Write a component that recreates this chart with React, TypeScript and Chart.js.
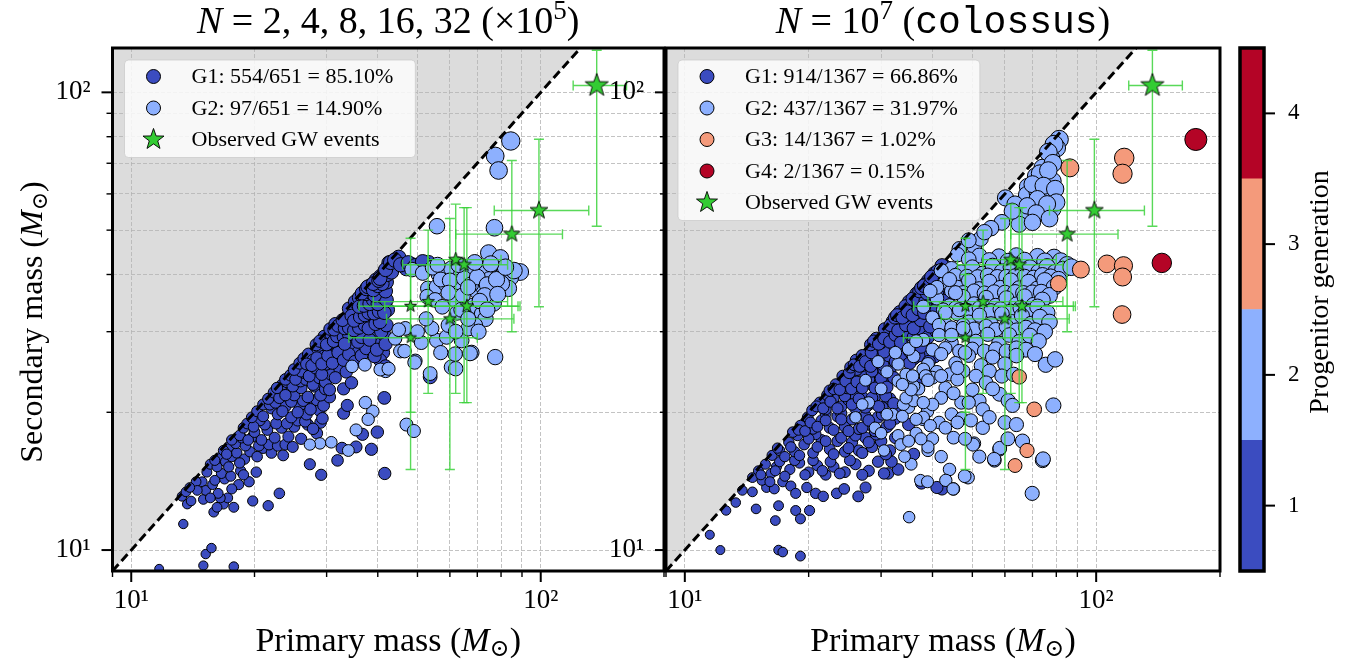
import React, { useEffect, useRef } from 'react';
import { Chart, registerables } from 'chart.js';

Chart.register(...registerables);

const W = 1363;
const H = 659;
const SERIF = "'Liberation Serif', 'DejaVu Serif', serif";
const MONO = "'Liberation Mono', 'DejaVu Sans Mono', monospace";

// ---------------- axes / ticks ----------------
const X_MIN = 9;
const X_MAX = 200;
const Y_MIN = 9;
const Y_MAX = 125;
const xTickValues = [9, 10, 20, 30, 40, 50, 60, 70, 80, 90, 100, 200];
const yTickValues = [10, 20, 30, 40, 50, 60, 70, 80, 90, 100];
const tickLabelText: Record<number, string> = { 10: '10¹', 100: '10²' };
const equalMassLine = [9, 200];
const generationTicks = [1, 2, 3, 4];
const generationColors = ['#3b4cc0', '#8db0fe', '#f49a7b', '#b40426'];
const STAR_COLOR = '#33cc33';

// ---------------- left panel: N = 2,4,8,16,32 x 1e5 ----------------
const leftG1: [number, number][] = [
  [11.7, 9.1], [15.0, 9.25], [15.2, 9.8], [15.7, 10.1], [17.8, 9.2],
  [13.4, 11.4], [13.7, 12.6], [15.9, 12.1], [15.0, 12.9], [16.8, 12.6], [17.2, 13.0], [16.5, 13.0], [19.8, 12.8], [21.6, 12.5], [23.0, 13.3],
  [13.3, 13.1], [13.6, 13.4], [14.9, 14.1], [15.2, 13.5], [15.8, 13.9], [16.3, 13.3], [16.9, 14.3], [16.6, 14.7], [18.3, 13.9], [19.4, 14.1], [20.2, 14.8], [18.5, 14.9], [29.1, 14.6], [41.6, 14.7], [14.4, 14.1], [15.3, 14.8],
  [14.0, 12.8], [14.5, 13.5], [13.9, 13.7], [15.6, 13.0], [16.0, 14.2], [17.5, 14.5], [17.6, 13.6], [18.8, 14.6], [16.2, 12.4], [17.8, 12.4],
  [15.6, 15.4], [16.2, 15.2], [16.4, 15.9], [17.0, 15.6], [17.6, 16.0], [17.3, 16.8], [18.1, 16.3], [18.9, 15.8], [19.5, 16.4], [20.3, 16.0], [21.0, 16.7], [22.0, 16.3], [23.5, 16.1], [27.3, 15.4], [31.9, 15.7], [32.7, 16.7], [35.4, 16.8], [38.6, 16.6], [16.8, 16.5], [18.0, 17.1],
  [16.0, 15.7], [17.3, 15.2], [18.4, 15.5], [19.0, 16.9], [20.5, 16.9], [21.7, 17.0], [22.8, 16.9], [23.8, 17.0], [19.8, 17.7], [17.1, 16.2], [18.6, 17.6], [24.8, 16.8],
  [17.6, 17.4], [18.4, 17.8], [18.8, 18.5], [19.3, 17.4], [20.0, 18.1], [20.8, 17.4], [21.5, 18.3], [22.4, 17.6], [23.3, 18.5], [24.2, 17.7], [25.0, 18.6], [26.0, 17.5], [27.0, 18.8], [28.4, 18.0], [29.0, 19.0], [36.7, 17.9], [39.9, 18.1], [19.2, 18.9],
  [21.2, 18.8], [22.6, 18.9], [24.0, 18.9], [25.5, 19.2], [26.6, 19.1], [27.8, 18.4], [20.6, 19.2], [19.9, 18.6],
  [19.7, 19.5], [20.3, 20.1], [21.0, 19.6], [22.0, 20.4], [22.8, 19.8], [23.8, 20.6], [24.6, 19.5], [25.8, 20.5], [26.8, 19.8], [27.8, 20.8], [28.8, 20.2], [29.3, 19.4], [33.0, 19.9], [33.7, 20.7], [21.0, 20.8],
  [21.8, 20.8], [22.5, 21.0], [23.4, 20.1], [24.6, 21.1], [25.5, 20.0], [26.3, 21.2], [27.4, 20.3], [28.4, 21.3], [29.5, 20.7], [30.5, 21.6],
  [21.6, 21.4], [22.3, 22.1], [23.0, 21.5], [24.0, 22.4], [25.0, 21.8], [26.0, 22.6], [27.0, 21.6], [28.0, 22.8], [29.0, 21.8], [29.8, 22.5], [23.4, 23.0], [41.5, 21.5],
  [24.0, 23.3], [24.8, 22.8], [25.9, 23.4], [26.7, 23.6], [27.8, 23.0], [28.8, 23.8], [29.8, 23.3], [30.8, 24.2], [22.7, 22.6], [23.8, 21.8], [26.5, 24.4], [30.5, 22.4], [32.3, 25.0], [33.0, 22.5],
  [23.8, 23.6], [24.5, 24.1], [25.2, 23.6], [26.0, 24.6], [27.2, 24.0], [28.2, 25.0], [29.2, 24.2], [30.0, 25.5], [25.0, 24.8], [25.8, 25.6], [31.5, 23.8], [33.5, 24.5], [34.5, 23.2],
  [26.4, 26.2], [27.1, 26.8], [27.8, 26.0], [28.6, 27.5], [29.5, 26.5], [30.5, 27.8], [31.5, 26.8], [32.5, 28.5], [33.5, 27.2], [34.6, 28.2], [35.8, 27.0], [37.0, 28.8], [38.5, 27.5], [40.0, 28.5], [41.2, 27.0], [28.3, 28.1], [29.6, 29.3], [30.8, 29.6], [32.0, 30.0], [35.0, 29.8], [37.5, 30.0], [39.2, 29.8], [41.5, 29.5], [40.5, 26.0], [41.8, 25.2],
  [26.8, 25.5], [27.6, 25.3], [28.4, 26.3], [29.2, 25.5], [30.2, 26.6], [31.0, 25.6], [32.0, 27.0], [33.0, 26.0], [34.0, 26.8], [35.2, 25.8], [36.5, 26.6], [37.5, 27.6], [39.3, 26.5], [28.9, 28.6], [30.0, 28.1], [31.2, 28.6], [31.8, 29.3], [33.0, 29.2], [34.0, 29.6], [35.8, 28.5], [36.5, 29.2], [38.2, 28.8], [39.8, 27.4], [41.8, 28.2], [40.8, 30.0], [33.2, 28.2],
  [30.6, 30.4], [31.5, 31.2], [32.5, 30.8], [33.5, 32.0], [34.5, 31.0], [35.5, 32.8], [36.5, 31.5], [37.5, 33.5], [38.6, 32.2], [39.8, 34.0], [41.0, 32.5], [42.0, 31.0], [34.0, 33.7], [35.2, 34.9], [36.0, 35.6], [37.2, 35.0], [38.5, 35.8], [40.2, 35.5], [41.5, 34.5], [42.3, 33.5],
  [31.3, 30.3], [32.0, 30.9], [33.2, 30.5], [34.0, 30.6], [35.0, 30.2], [36.0, 30.6], [37.2, 31.0], [38.0, 30.5], [39.5, 31.2], [40.5, 31.5], [32.8, 31.8], [34.5, 32.5], [35.0, 31.7], [36.2, 32.3], [37.2, 32.6], [38.0, 33.0], [39.2, 32.9], [40.3, 33.2], [41.5, 33.0], [36.0, 34.0], [37.0, 34.2], [38.2, 34.5], [39.0, 35.2], [40.0, 34.5], [41.0, 35.8], [42.0, 35.2], [37.5, 36.3], [38.5, 36.5], [39.3, 36.0],
  [36.6, 36.4], [37.5, 37.2], [38.5, 37.9], [39.6, 38.9], [40.6, 39.6], [41.6, 40.6], [40.8, 37.5], [41.8, 36.8], [42.0, 38.5], [42.5, 41.0], [43.8, 41.5], [45.0, 43.6], [46.3, 41.8], [48.4, 42.0], [52.3, 42.2], [47.0, 41.2], [50.5, 41.5], [53.2, 42.4], [44.5, 42.0], [42.6, 42.4],
  [37.8, 37.6], [39.0, 37.0], [40.0, 37.8], [41.0, 38.2], [39.0, 38.2], [40.2, 38.8], [41.2, 39.8], [42.2, 40.0], [43.2, 40.5], [40.5, 39.2], [41.8, 41.0], [43.0, 42.5], [44.0, 43.0], [45.5, 42.0], [47.5, 42.4], [49.5, 41.8], [51.5, 42.6],
  [53.7, 23.9],
];

const leftG2: [number, number][] = [
  [84.5, 78.3], [77.4, 72.6], [78.9, 67.5], [55.8, 51.0], [77.1, 50.6], [74.6, 44.6], [79.7, 43.5], [89.1, 40.5], [71.2, 40.5], [77.4, 40.0],
  [81.1, 40.0], [84.3, 39.4], [83.4, 37.3], [80.2, 38.2], [69.9, 36.8], [61.6, 40.0], [56.3, 40.0], [53.0, 37.3], [55.7, 37.6], [61.8, 35.2],
  [62.5, 33.0], [68.5, 34.2], [71.9, 32.8], [73.3, 32.0], [76.7, 34.6], [69.1, 31.0], [55.7, 28.7], [58.9, 29.2], [64.1, 28.7], [66.6, 30.5],
  [49.4, 25.9], [53.7, 24.3], [60.5, 25.1], [61.8, 26.8], [77.4, 26.4], [67.8, 27.0], [51.1, 28.4], [45.4, 27.2], [44.1, 29.0], [46.7, 30.5],
  [54.2, 30.5], [52.8, 35.8], [55.2, 35.2], [41.8, 24.6], [40.6, 24.8], [49.2, 25.7], [62.0, 24.9], [67.2, 26.9], [47.0, 18.8], [49.0, 18.2],
  [38.9, 20.1], [37.9, 19.3], [37.3, 21.0], [35.4, 18.3], [33.9, 16.5], [30.8, 17.2], [28.9, 17.1], [27.3, 17.0], [42.5, 24.9], [37.2, 25.4],
  [34.6, 25.2], [45.0, 30.3], [46.5, 27.2], [58.0, 40.5], [60.5, 41.2], [64.0, 40.2], [66.0, 41.5], [68.0, 40.3], [73.5, 41.0], [75.0, 39.0],
  [63.0, 38.5], [58.5, 38.2], [72.0, 37.8], [86.0, 40.8], [48.5, 41.0], [51.5, 40.3], [54.5, 41.4],
  [57.0, 39.0], [60.0, 38.8], [65.0, 39.2], [67.5, 38.0], [70.0, 39.5], [74.0, 38.0], [78.0, 39.0], [82.0, 41.5], [59.5, 36.5], [64.5, 36.0],
  [66.5, 37.5], [73.0, 36.0], [78.5, 36.2], [57.5, 34.0], [64.0, 33.5], [66.5, 32.0], [70.5, 30.0], [59.5, 31.0], [62.0, 30.0], [52.5, 32.0],
  [50.0, 30.0], [57.0, 27.0], [71.0, 35.0], [74.0, 33.5], [63.0, 42.0], [69.0, 42.5], [75.5, 42.2], [56.0, 42.0],
];

// ---------------- right panel: N = 1e7 (colossus) ----------------
const rightG1: [number, number][] = [
  [11.5, 10.8], [12.2, 10.0], [16.9, 10.0], [17.3, 9.9], [19.1, 9.7], [14.9, 12.3], [16.6, 11.6], [16.9, 12.5], [18.6, 12.2], [19.1, 11.7],
  [20.1, 12.2], [13.3, 12.7], [12.6, 12.2], [13.8, 13.5], [14.6, 13.4], [15.8, 13.7], [16.5, 13.6], [17.3, 14.1], [15.4, 14.2], [16.2, 14.7],
  [16.7, 15.2], [18.1, 13.8], [18.6, 13.3], [19.8, 13.7], [20.8, 13.3], [21.7, 13.1], [23.4, 13.3], [24.4, 13.6], [26.4, 13.1], [27.5, 13.7],
  [42.2, 13.6], [41.0, 13.7], [37.6, 14.0], [31.2, 14.7],
  [14.6, 14.4], [15.1, 14.9], [15.7, 15.4], [16.1, 14.1], [17.0, 15.6], [18.0, 15.0], [19.0, 15.5], [20.0, 14.8], [21.0, 15.3], [22.0, 14.6], [23.0, 15.2], [24.5, 14.8], [26.0, 15.4], [28.0, 14.9], [29.5, 15.6], [33.0, 15.0],
  [15.3, 14.6], [16.6, 14.9], [17.5, 14.5], [18.5, 15.7], [19.6, 14.6], [20.5, 15.7], [21.6, 14.9], [22.6, 15.6], [23.8, 14.7], [25.2, 15.7], [27.0, 14.6], [30.5, 14.7], [31.8, 15.6],
  [16.3, 16.1], [17.0, 16.5], [17.9, 17.2], [18.5, 16.4], [19.5, 17.0], [20.5, 16.3], [21.5, 17.4], [22.5, 16.6], [23.5, 17.3], [24.5, 16.4], [25.5, 17.2], [26.5, 16.5], [27.5, 17.6], [28.5, 16.8], [30.0, 17.3], [31.5, 16.5], [36.0, 16.2], [18.8, 17.8], [20.8, 17.9],
  [16.8, 16.7], [17.5, 16.0], [18.1, 16.8], [19.0, 16.1], [20.0, 17.5], [21.0, 16.8], [22.0, 17.3], [23.0, 16.2], [24.0, 17.6], [25.0, 16.7], [26.0, 17.8], [27.0, 16.3], [28.0, 17.2], [29.2, 17.9], [30.8, 16.2], [32.5, 17.6],
  [18.3, 18.1], [19.1, 18.7], [19.9, 19.5], [20.5, 18.4], [21.5, 19.2], [22.5, 18.5], [23.5, 19.6], [24.5, 18.6], [25.5, 19.3], [26.5, 18.4], [27.5, 19.6], [28.5, 18.7], [29.5, 19.5], [31.0, 18.6], [32.5, 19.4], [35.0, 18.8], [22.0, 19.9], [24.0, 19.9],
  [18.9, 18.3], [19.6, 18.2], [20.2, 19.0], [21.0, 18.6], [22.0, 19.2], [23.0, 18.3], [24.0, 19.3], [25.0, 18.2], [26.0, 19.6], [27.0, 18.5], [28.0, 19.2], [29.0, 18.2], [30.2, 19.8], [31.5, 18.9],
  [20.4, 20.2], [21.3, 21.0], [22.0, 20.3], [23.0, 21.5], [24.0, 20.6], [25.0, 21.3], [26.0, 20.4], [27.0, 21.6], [28.0, 20.8], [29.0, 21.7], [30.2, 20.5], [31.5, 21.4], [33.0, 20.6], [22.2, 21.8], [25.8, 21.9],
  [20.9, 20.6], [21.7, 20.4], [22.6, 21.1], [23.5, 20.4], [24.5, 21.7], [25.5, 20.8], [26.5, 21.4], [27.5, 20.5], [28.5, 21.5], [29.6, 20.6], [30.8, 21.7], [32.2, 20.9],
  [22.5, 22.3], [23.3, 23.0], [24.2, 24.0], [24.8, 22.6], [25.6, 23.8], [26.5, 22.8], [27.5, 24.2], [28.5, 23.0], [29.5, 24.4], [30.5, 23.2], [31.5, 24.6], [37.0, 23.0], [26.2, 24.8],
  [23.0, 22.5], [23.8, 22.4], [24.6, 23.4], [25.4, 22.5], [26.2, 23.3], [27.0, 22.6], [28.0, 23.6], [29.0, 22.6], [30.0, 23.7], [31.0, 22.7], [32.2, 23.8], [25.1, 24.4], [28.5, 24.6], [30.5, 24.8],
  [25.3, 25.1], [26.1, 26.0], [27.0, 25.3], [27.8, 26.8], [28.8, 25.6], [29.8, 27.2], [30.8, 25.8], [32.0, 27.4], [33.2, 26.0], [34.5, 27.6], [36.0, 26.2], [38.0, 27.0], [40.5, 26.5], [27.0, 26.6], [29.0, 27.9], [31.0, 27.9],
  [25.8, 25.4], [26.6, 25.2], [27.5, 25.8], [28.3, 25.2], [29.3, 26.2], [30.3, 25.4], [31.3, 26.6], [32.5, 25.8], [33.8, 26.8], [35.2, 25.6], [37.0, 26.6], [39.2, 25.8], [28.4, 27.0], [30.5, 27.1], [33.0, 27.9], [35.2, 27.2], [37.5, 27.8],
  [28.3, 28.1], [29.2, 29.0], [30.0, 28.4], [31.2, 30.2], [32.0, 29.0], [33.0, 30.8], [34.2, 29.4], [35.5, 31.2], [37.0, 29.6], [38.5, 31.0], [40.0, 29.8], [42.0, 30.5], [30.6, 30.4], [32.0, 31.6], [33.5, 31.9], [36.5, 28.6],
  [28.8, 28.6], [29.6, 28.2], [30.5, 29.0], [31.5, 28.5], [32.5, 29.5], [33.5, 28.4], [34.8, 30.0], [36.0, 29.2], [37.5, 30.5], [39.0, 29.2], [41.0, 30.0], [31.6, 31.0], [33.0, 30.2], [34.5, 31.0], [36.0, 30.5], [37.5, 31.8], [39.5, 30.8], [41.0, 31.8],
  [32.4, 32.2], [33.3, 33.1], [34.3, 32.5], [35.5, 34.0], [36.5, 33.0], [37.8, 34.6], [39.0, 33.2], [40.5, 35.0], [42.0, 33.8], [35.1, 34.9], [36.6, 36.3], [38.0, 35.8], [39.5, 36.9], [41.5, 36.5], [43.5, 35.5], [34.4, 34.1],
  [32.8, 32.6], [33.8, 32.2], [34.8, 33.2], [35.8, 32.6], [37.0, 33.6], [38.2, 33.0], [39.5, 34.2], [41.0, 33.5], [35.8, 35.4], [37.0, 35.0], [38.5, 35.0], [40.0, 35.8], [41.0, 36.5], [42.5, 35.0], [37.2, 36.8], [38.8, 36.4],
  [37.6, 37.4], [39.1, 38.8], [40.5, 40.2], [41.5, 39.0], [42.5, 38.0], [44.0, 39.5], [43.0, 41.5], [42.2, 41.8], [38.4, 38.0], [40.0, 37.6],
  [38.2, 37.8], [39.5, 38.0], [40.2, 39.2], [41.0, 38.4], [42.0, 39.4], [41.2, 40.6], [43.0, 40.2], [39.8, 39.5],
];

const rightG2: [number, number][] = [
  [81.3, 78.9], [80.1, 75.6], [77.6, 71.9], [74.1, 68.4], [71.4, 65.6], [75.9, 65.1], [78.3, 64.0], [72.8, 63.3], [68.2, 62.2], [69.6, 59.7],
  [75.9, 61.2], [70.2, 57.4], [74.1, 55.6], [78.3, 55.6], [66.2, 54.7], [65.7, 53.4], [67.8, 59.7], [60.2, 58.8], [50.5, 46.1], [52.4, 47.9],
  [46.5, 45.5], [49.0, 47.5], [63.5, 57.0], [72.0, 60.5], [77.0, 58.5],
  [79, 77], [76.5, 74], [78.5, 70], [73, 66.5], [76.5, 67.5], [70, 63], [74.5, 62.5], [79.5, 61.5], [72, 58.5], [80, 57.5],
  [76, 57], [68, 56.5], [71.5, 54.5], [77, 53], [65, 51.5], [70, 52], [62.5, 55], [59, 52], [55.5, 50.5], [53.5, 49.5],
  [46, 44.2], [52, 44.0], [58, 43.8], [64, 44.0], [72, 43.8], [79, 43.6],
  [49, 43.2], [55, 43.0], [61, 42.8], [67, 43.0], [75, 42.8], [82, 42.8], [85, 42.0],
  [44.5, 41.2], [47, 40.5], [50, 41.5], [53, 40.2], [56, 41.8], [59, 40.6], [62, 41.5], [65.5, 40.3], [69, 41.4], [72.5, 40.5], [76, 41.6], [79.5, 40.4], [83, 41.0], [87, 41.5],
  [45.5, 39.8], [48.5, 39.6], [51.5, 39.5], [54.5, 39.8], [57.5, 39.5], [60.5, 39.5], [63.5, 39.6], [67, 39.5], [70.5, 39.3], [74, 39.8], [77.5, 39.5], [81, 39.0],
  [43, 38.5], [46, 37.5], [49, 38.8], [52, 37.2], [55, 38.6], [58.5, 37.4], [62, 38.8], [65, 37.3], [68.5, 38.5], [72, 37.2], [75, 38.8], [79, 37.5],
  [44.5, 36.8], [47.5, 36.5], [50.5, 36.8], [53.5, 36.4], [56.5, 36.6], [60, 36.5], [63.5, 36.6], [66.5, 36.4], [70, 36.5], [73.5, 36.6], [77, 36.0],
  [41, 35.5], [44, 34.2], [47.5, 35.8], [50.5, 34.5], [54, 35.6], [57, 34.2], [60.5, 35.5], [64, 34.4], [67, 35.8], [70.5, 34.3], [74, 35.2],
  [42.5, 33.5], [45.5, 33.8], [48.5, 33.4], [52, 33.8], [55.5, 33.3], [58.5, 33.6], [62, 33.2], [65.5, 33.8], [69, 33.2], [72, 34.0], [76, 33.0],
  [40, 32.2], [43, 31.2], [46, 32.8], [49, 31.5], [52, 32.6], [55.5, 31.2], [59, 32.8], [62.5, 31.5], [66, 32.5], [69.5, 31.2], [73, 32.3], [77, 31.5],
  [41.5, 31.0], [44.5, 30.6], [47.5, 31.0], [50.5, 30.4], [54, 30.8], [57, 30.3], [60.5, 30.8], [64, 30.2], [67.5, 30.6], [71, 30.2], [75, 30.0],
  [38, 28.8], [41.5, 29.5], [44.5, 28.4], [48, 29.8], [51, 28.6], [54.5, 29.6], [58, 28.3], [61.5, 29.5], [65, 28.5], [69, 29.4], [72.5, 28.6],
  [40, 27.4], [43, 27.6], [46.5, 27.2], [50, 27.5], [53.5, 27.2], [57, 27.5], [60.5, 27.2], [64, 27.6], [67.5, 27.4], [71, 26.8],
  [36, 26.5], [39, 25.5], [42, 26.8], [45.5, 25.6], [49, 26.6], [52.5, 25.3], [56, 26.4], [60, 25.5], [64, 26.6], [75.4, 25.4], [79.5, 26.1],
  [38, 24.8], [41, 24.5], [44, 24.2], [47.5, 24.6], [51, 24.0], [55, 24.6], [59, 24.0], [63, 24.2],
  [34, 23.5], [37, 22.5], [40, 23.8], [43, 22.6], [46, 23.6], [50, 22.4], [54, 23.2], [58.2, 21.9], [61.1, 21.2], [62.6, 20.7], [52, 21.2], [53, 20.3], [47, 21.0], [78.7, 20.7],
  [42, 21.5], [45, 22], [49, 21], [56, 22.5],
  [32, 19.8], [35, 20.5], [38.9, 20.1], [37.9, 19.3], [41.5, 19.0], [44.5, 19.8], [47.1, 19.4], [49.6, 19.2], [45, 17.6], [50.5, 17.1], [58.2, 16.6], [66.2, 17.3], [50.2, 17.0], [58.3, 16.7],
  [36.5, 18], [40, 17.5], [43, 18.5], [46, 19.0], [48, 17.5], [53, 18.5], [55, 19.5], [60, 19.0], [39, 16.5], [42, 16.0], [52, 16.0], [61, 17.5], [64, 18.8],
  [74.1, 15.7], [56.6, 15.7], [48.8, 14.4], [44, 15.0], [35.1, 11.8], [37.4, 14.2], [38.9, 14.1], [43.1, 14.2], [45, 13.6], [69.9, 13.3], [74.3, 15.8], [47.9, 14.5], [56.5, 15.8], [44.9, 13.6],
  [30.5, 16.5], [33, 17.8], [29, 18.5], [31, 19.8], [26, 19.5], [28, 21], [30, 22.5], [27.5, 23.5], [31, 24.5], [33, 25.5], [35, 27.5], [36.5, 28.6], [32.5, 27], [29.5, 25.8], [34, 20.8], [36, 22.8], [38.5, 24], [30, 18], [27, 20.8],
  [35.5, 15.4], [34.2, 16.0], [33.5, 17.0], [39.0, 16.8], [35.0, 17.3], [37.5, 17.5], [38.0, 19.5], [33.8, 19.6], [36.5, 19.3], [39.5, 18.7],
  [36.0, 21.2], [40.0, 20.8], [34.5, 21.5], [38.0, 21.0], [33.0, 23.4], [34.5, 24.2], [42.0, 24.0], [35.5, 22.4], [33.8, 23.0], [35.8, 24.0], [39.0, 23.5],
  [42, 40.8], [44, 39], [45.5, 36.5], [46.5, 33.5], [47.5, 30.5], [48, 27], [41, 37.5], [43, 33], [44.5, 29.5], [46, 25], [39.5, 36.8], [38, 34],
];

const rightG3: [number, number][] = [
  [117, 71.9], [115.9, 66.4], [86.3, 68.4], [106.2, 42.2], [116.5, 41.8], [115.9, 39.5], [91.8, 41.0],
  [81.0, 38.2], [115.6, 32.7], [65.0, 23.9], [70.7, 20.3], [67.9, 16.5], [63.5, 15.3],
];

const rightG4: [number, number][] = [
  [174.7, 78.9], [144.4, 42.4],
];

// ---------------- observed GW events ----------------
const gwPrimary = [137, 99, 85, 62, 65, 48.1, 53.1, 66, 60, 48.1];
const gwSecondary = [103.5, 55.2, 49, 43.1, 42, 34.1, 34.9, 34.1, 32, 29.1];
const gwPrimaryLow = [120, 77, 62, 53, 46, 36, 39, 41.6, 42, 34];
const gwPrimaryHigh = [162, 131, 113, 80, 83, 89, 83, 88, 86, 70];
const gwSecondaryLow = [51, 34, 30, 22, 21, 15, 22, 21, 15, 20];
const gwSecondaryHigh = [123.6, 79, 71, 57, 56, 48, 50, 56, 53, 40];

// ---------------- legends ----------------
const leftLegendLabels = ['G1: 554/651 = 85.10%', 'G2: 97/651 = 14.90%', 'Observed GW events'];
const rightLegendLabels = ['G1: 914/1367 = 66.86%', 'G2: 437/1367 = 31.97%', 'G3: 14/1367 = 1.02%', 'G4: 2/1367 = 0.15%', 'Observed GW events'];

type Seg = { t: string; it?: boolean; mono?: boolean; sup?: boolean; sub?: boolean };
const leftTitle: Seg[] = [{ t: 'N', it: true }, { t: ' = 2, 4, 8, 16, 32 (×10' }, { t: '5', sup: true }, { t: ')' }];
const rightTitle: Seg[] = [{ t: 'N', it: true }, { t: ' = 10' }, { t: '7', sup: true }, { t: ' (' }, { t: 'colossus', mono: true }, { t: ')' }];
const xLabel: Seg[] = [{ t: 'Primary mass (' }, { t: 'M', it: true }, { t: '⊙', sub: true }, { t: ')' }];
const yLabel: Seg[] = [{ t: 'Secondary mass (' }, { t: 'M', it: true }, { t: '⊙', sub: true }, { t: ')' }];
const cbarLabel = 'Progenitor generation';

// ---------------- layout ----------------
const LEFT_AREA = { left: 112.5, right: 664, top: 48, bottom: 571 };
const RIGHT_AREA = { left: 666, right: 1220, top: 48, bottom: 571 };
const CBAR_AREA = { left: 1240, right: 1264, top: 48, bottom: 571 };

// ---------------- helpers ----------------
function circleRadius(x: number, y: number) {
  return 1.8 + 0.58 * Math.sqrt(x + y);
}
function starSize(m1: number, m2: number) {
  return 1.71 * Math.sqrt(m1 + m2) - 3.5;
}
function starPath(ctx: CanvasRenderingContext2D, cx: number, cy: number, R: number) {
  const r = R * 0.4;
  ctx.beginPath();
  for (let k = 0; k < 10; k++) {
    const ang = -Math.PI / 2 + (k * Math.PI) / 5;
    const rad = k % 2 === 0 ? R : r;
    const px = cx + rad * Math.cos(ang);
    const py = cy + rad * Math.sin(ang);
    if (k === 0) ctx.moveTo(px, py);
    else ctx.lineTo(px, py);
  }
  ctx.closePath();
}
function drawStar(ctx: CanvasRenderingContext2D, cx: number, cy: number, size: number) {
  starPath(ctx, cx, cy, size / 1.9);
  ctx.fillStyle = STAR_COLOR;
  ctx.fill();
  ctx.lineWidth = 0.9;
  ctx.strokeStyle = '#000';
  ctx.stroke();
}
function makeStarImage(size: number) {
  const c = document.createElement('canvas');
  const s = Math.ceil(size + 6);
  c.width = s;
  c.height = s;
  const cx = c.getContext('2d')!;
  drawStar(cx, s / 2, s / 2, size);
  return c;
}
function segFont(s: Seg, size: number) {
  const sz = s.sup || s.sub ? Math.round(size * 0.7) : size;
  if (s.mono) return `${sz}px ${MONO}`;
  return `${s.it ? 'italic ' : ''}${sz}px ${SERIF}`;
}
function drawRich(ctx: CanvasRenderingContext2D, segs: Seg[], x: number, y: number, size: number) {
  let total = 0;
  const ws = segs.map((s) => {
    ctx.font = segFont(s, size);
    const w = ctx.measureText(s.t).width;
    total += w;
    return w;
  });
  let cx = x - total / 2;
  ctx.textAlign = 'left';
  ctx.textBaseline = 'alphabetic';
  ctx.fillStyle = '#000';
  segs.forEach((s, i) => {
    ctx.font = segFont(s, size);
    const dy = s.sup ? -size * 0.38 : s.sub ? size * 0.15 : 0;
    ctx.fillText(s.t, cx, y + dy);
    cx += ws[i];
  });
}
function roundRectPath(ctx: CanvasRenderingContext2D, x: number, y: number, w: number, h: number, r: number) {
  ctx.beginPath();
  ctx.moveTo(x + r, y);
  ctx.lineTo(x + w - r, y);
  ctx.arcTo(x + w, y, x + w, y + r, r);
  ctx.lineTo(x + w, y + h - r);
  ctx.arcTo(x + w, y + h, x + w - r, y + h, r);
  ctx.lineTo(x + r, y + h);
  ctx.arcTo(x, y + h, x, y + h - r, r);
  ctx.lineTo(x, y + r);
  ctx.arcTo(x, y, x + r, y, r);
  ctx.closePath();
}

type LegendItem = { label: string; color?: string; star?: boolean };
const LEGEND_FONT = 22;

function drawLegend(chart: any, items: LegendItem[]) {
  const { ctx, chartArea: a } = chart;
  ctx.save();
  ctx.font = `${LEGEND_FONT}px ${SERIF}`;
  const maxW = Math.max(...items.map((it) => ctx.measureText(it.label).width));
  const x0 = a.left + 12;
  const y0 = a.top + 12;
  const rowH = 31.5;
  const w = 67 + maxW + 22;
  const h = 16.5 + rowH * (items.length - 1) + 18;
  roundRectPath(ctx, x0, y0, w, h, 4);
  ctx.fillStyle = 'rgba(255,255,255,0.8)';
  ctx.fill();
  ctx.strokeStyle = 'rgba(204,204,204,0.8)';
  ctx.lineWidth = 1;
  ctx.stroke();
  items.forEach((it, i) => {
    const cy = y0 + 16.5 + rowH * i;
    const mx = x0 + 29;
    if (it.star) {
      drawStar(ctx, mx, cy, 21);
    } else {
      ctx.beginPath();
      ctx.arc(mx, cy, 7, 0, Math.PI * 2);
      ctx.fillStyle = it.color!;
      ctx.fill();
      ctx.lineWidth = 1;
      ctx.strokeStyle = '#000';
      ctx.stroke();
    }
    ctx.fillStyle = '#000';
    ctx.font = `${LEGEND_FONT}px ${SERIF}`;
    ctx.textAlign = 'left';
    ctx.textBaseline = 'middle';
    ctx.fillText(it.label, x0 + 67, cy + 1);
  });
  ctx.restore();
}

function drawErrorBars(chart: any) {
  const { ctx, chartArea: a } = chart;
  const xs = chart.scales.x;
  const ys = chart.scales.y;
  ctx.save();
  ctx.beginPath();
  ctx.rect(a.left, a.top, a.right - a.left, a.bottom - a.top);
  ctx.clip();
  ctx.strokeStyle = 'rgba(60,210,60,0.85)';
  ctx.lineWidth = 1.4;
  const cap = 5;
  gwPrimary.forEach((m1, i) => {
    const px = xs.getPixelForValue(m1);
    const py = ys.getPixelForValue(gwSecondary[i]);
    const x0 = xs.getPixelForValue(gwPrimaryLow[i]);
    const x1 = xs.getPixelForValue(gwPrimaryHigh[i]);
    const y0 = ys.getPixelForValue(gwSecondaryLow[i]);
    const y1 = ys.getPixelForValue(gwSecondaryHigh[i]);
    ctx.beginPath();
    ctx.moveTo(x0, py); ctx.lineTo(x1, py);
    ctx.moveTo(px, y0); ctx.lineTo(px, y1);
    ctx.moveTo(x0, py - cap); ctx.lineTo(x0, py + cap);
    ctx.moveTo(x1, py - cap); ctx.lineTo(x1, py + cap);
    ctx.moveTo(px - cap, y0); ctx.lineTo(px + cap, y0);
    ctx.moveTo(px - cap, y1); ctx.lineTo(px + cap, y1);
    ctx.stroke();
  });
  ctx.restore();
}

function drawFrameAndTicks(chart: any) {
  const { ctx, chartArea: a } = chart;
  const xs = chart.scales.x;
  const ys = chart.scales.y;
  ctx.save();
  ctx.strokeStyle = '#000';
  xTickValues.forEach((v) => {
    const px = xs.getPixelForValue(v);
    const major = v in tickLabelText;
    ctx.lineWidth = major ? 2 : 1.4;
    ctx.beginPath();
    ctx.moveTo(px, a.bottom);
    ctx.lineTo(px, a.bottom + (major ? 11 : 6));
    ctx.stroke();
  });
  yTickValues.forEach((v) => {
    const py = ys.getPixelForValue(v);
    const major = v in tickLabelText;
    ctx.lineWidth = major ? 2 : 1.4;
    ctx.beginPath();
    ctx.moveTo(a.left, py);
    ctx.lineTo(a.left - (major ? 11 : 6), py);
    ctx.stroke();
  });
  ctx.lineWidth = 3;
  ctx.strokeRect(a.left, a.top, a.right - a.left, a.bottom - a.top);
  ctx.restore();
}

type PanelSpec = {
  area: { left: number; right: number; top: number; bottom: number };
  yAxisW: number;
  groups: [number, number][][];
  legend: LegendItem[];
  title: Seg[];
  showYLabel: boolean;
};

function panelConfig(spec: PanelSpec): any {
  const xAxisH = 60;
  const { area } = spec;
  const starImages = gwPrimary.map((m1, i) => makeStarImage(starSize(m1, gwSecondary[i])));
  const groupSets = spec.groups.map((g, i) => ({
    type: 'scatter',
    label: `G${i + 1}`,
    data: g.map(([x, y]) => ({ x, y })),
    backgroundColor: generationColors[i],
    borderColor: '#000',
    borderWidth: 1,
    pointRadius: (c: any) => (c.raw ? circleRadius(c.raw.x, c.raw.y) : 5),
    order: 10 - i,
  }));
  const starIndex = 1 + groupSets.length + 1;
  const datasets: any[] = [
    {
      type: 'line',
      label: 'forbidden',
      data: equalMassLine.map((v) => ({ x: v, y: v })),
      borderWidth: 0,
      pointRadius: 0,
      fill: 'end',
      backgroundColor: '#dcdcdc',
      order: 20,
    },
    ...groupSets,
    {
      type: 'line',
      label: 'equal mass',
      data: equalMassLine.map((v) => ({ x: v, y: v })),
      borderColor: '#000',
      borderWidth: 3,
      borderDash: [9, 4.5],
      pointRadius: 0,
      fill: false,
      order: 2,
    },
    {
      type: 'scatter',
      label: 'Observed GW events',
      data: gwPrimary.map((m1, i) => ({ x: m1, y: gwSecondary[i] })),
      pointStyle: (c: any) => starImages[c.dataIndex] || starImages[0],
      pointRadius: 8,
      order: 1,
    },
  ];

  const plugin = {
    id: 'panelDecor',
    beforeDatasetDraw(chart: any, args: any) {
      if (args.index === starIndex) drawErrorBars(chart);
    },
    afterDatasetsDraw(chart: any) {
      drawLegend(chart, spec.legend);
    },
    afterDraw(chart: any) {
      drawFrameAndTicks(chart);
      const { ctx, chartArea: a } = chart;
      const cx = (a.left + a.right) / 2;
      ctx.save();
      drawRich(ctx, spec.title, cx, 33, 38);
      drawRich(ctx, xLabel, cx, 651, 34);
      if (spec.showYLabel) {
        ctx.translate(42, 322);
        ctx.rotate(-Math.PI / 2);
        drawRich(ctx, yLabel, 0, 0, 32);
      }
      ctx.restore();
    },
  };

  const tickFont = { family: SERIF, size: 27 };
  return {
    type: 'scatter',
    data: { datasets },
    options: {
      animation: false,
      responsive: false,
      devicePixelRatio: 1,
      events: [],
      layout: {
        autoPadding: false,
        padding: {
          left: area.left - spec.yAxisW,
          right: W - area.right,
          top: area.top,
          bottom: H - area.bottom - xAxisH,
        },
      },
      plugins: {
        legend: { display: false },
        tooltip: { enabled: false },
        title: { display: false },
        filler: { drawTime: 'beforeDraw' },
      },
      scales: {
        x: {
          type: 'logarithmic',
          position: 'bottom',
          min: X_MIN,
          max: X_MAX,
          afterBuildTicks: (s: any) => {
            s.ticks = xTickValues.map((v) => ({ value: v }));
          },
          afterFit: (s: any) => {
            s.height = xAxisH;
          },
          ticks: {
            autoSkip: false,
            maxRotation: 0,
            minRotation: 0,
            padding: 14,
            color: '#000',
            font: tickFont,
            callback: (v: any) => tickLabelText[Number(v)] ?? '',
          },
          grid: { color: '#b4b4b4', lineWidth: 0.8, drawTicks: false },
          border: { display: false, dash: [4, 2] },
        },
        y: {
          type: 'logarithmic',
          position: 'left',
          min: Y_MIN,
          max: Y_MAX,
          afterBuildTicks: (s: any) => {
            s.ticks = yTickValues.map((v) => ({ value: v }));
          },
          afterFit: (s: any) => {
            s.width = spec.yAxisW;
          },
          ticks: {
            autoSkip: false,
            padding: 22,
            color: '#000',
            font: tickFont,
            callback: (v: any) => tickLabelText[Number(v)] ?? '',
          },
          grid: { color: '#b4b4b4', lineWidth: 0.8, drawTicks: false },
          border: { display: false, dash: [4, 2] },
        },
      },
    },
    plugins: [plugin],
  };
}

function colorbarConfig(): any {
  const yW = 50;
  const a = CBAR_AREA;
  const plugin = {
    id: 'cbarDecor',
    afterDraw(chart: any) {
      const { ctx, chartArea: ca } = chart;
      const ys = chart.scales.y;
      ctx.save();
      ctx.strokeStyle = '#000';
      ctx.lineWidth = 2;
      generationTicks.forEach((g) => {
        const py = ys.getPixelForValue(g);
        ctx.beginPath();
        ctx.moveTo(ca.right, py);
        ctx.lineTo(ca.right + 11, py);
        ctx.stroke();
      });
      ctx.lineWidth = 3.5;
      ctx.strokeRect(ca.left, ca.top, ca.right - ca.left, ca.bottom - ca.top);
      ctx.translate(1328, 292);
      ctx.rotate(-Math.PI / 2);
      ctx.font = `28px ${SERIF}`;
      ctx.fillStyle = '#000';
      ctx.textAlign = 'center';
      ctx.textBaseline = 'alphabetic';
      ctx.fillText(cbarLabel, 0, 0);
      ctx.restore();
    },
  };
  return {
    type: 'bar',
    data: {
      labels: [''],
      datasets: generationTicks.map((g, i) => ({
        label: `G${g}`,
        data: [[g - 0.5, g + 0.5]],
        backgroundColor: generationColors[i],
        borderWidth: 0,
        grouped: false,
        barPercentage: 1,
        categoryPercentage: 1,
      })),
    },
    options: {
      animation: false,
      responsive: false,
      devicePixelRatio: 1,
      events: [],
      layout: {
        autoPadding: false,
        padding: { left: a.left, right: W - a.right - yW, top: a.top, bottom: H - a.bottom },
      },
      plugins: { legend: { display: false }, tooltip: { enabled: false } },
      scales: {
        x: { display: false },
        y: {
          position: 'right',
          min: 0.5,
          max: 4.5,
          afterBuildTicks: (s: any) => {
            s.ticks = generationTicks.map((v) => ({ value: v }));
          },
          afterFit: (s: any) => {
            s.width = yW;
          },
          ticks: {
            padding: 24,
            color: '#000',
            font: { family: SERIF, size: 23 },
            callback: (v: any) => String(v),
          },
          grid: { display: false, drawTicks: false },
          border: { display: false },
        },
      },
    },
    plugins: [plugin],
  };
}

const LEFT_SPEC: PanelSpec = {
  area: LEFT_AREA,
  yAxisW: 100,
  groups: [leftG1, leftG2],
  legend: [
    { label: leftLegendLabels[0], color: generationColors[0] },
    { label: leftLegendLabels[1], color: generationColors[1] },
    { label: leftLegendLabels[2], star: true },
  ],
  title: leftTitle,
  showYLabel: true,
};

const RIGHT_SPEC: PanelSpec = {
  area: RIGHT_AREA,
  yAxisW: 60,
  groups: [rightG1, rightG2, rightG3, rightG4],
  legend: [
    { label: rightLegendLabels[0], color: generationColors[0] },
    { label: rightLegendLabels[1], color: generationColors[1] },
    { label: rightLegendLabels[2], color: generationColors[2] },
    { label: rightLegendLabels[3], color: generationColors[3] },
    { label: rightLegendLabels[4], star: true },
  ],
  title: rightTitle,
  showYLabel: false,
};

export default function App() {
  const leftRef = useRef<HTMLCanvasElement>(null);
  const rightRef = useRef<HTMLCanvasElement>(null);
  const cbarRef = useRef<HTMLCanvasElement>(null);

  useEffect(() => {
    const charts = [
      new Chart(leftRef.current!, panelConfig(LEFT_SPEC)),
      new Chart(rightRef.current!, panelConfig(RIGHT_SPEC)),
      new Chart(cbarRef.current!, colorbarConfig()),
    ];
    return () => charts.forEach((c) => c.destroy());
  }, []);

  const st: React.CSSProperties = { position: 'absolute', left: 0, top: 0, width: W, height: H };
  return (
    <div style={{ position: 'fixed', left: 0, top: 0, width: W, height: H, background: '#fff' }}>
      <canvas ref={leftRef} width={W} height={H} style={st} />
      <canvas ref={rightRef} width={W} height={H} style={st} />
      <canvas ref={cbarRef} width={W} height={H} style={st} />
    </div>
  );
}
